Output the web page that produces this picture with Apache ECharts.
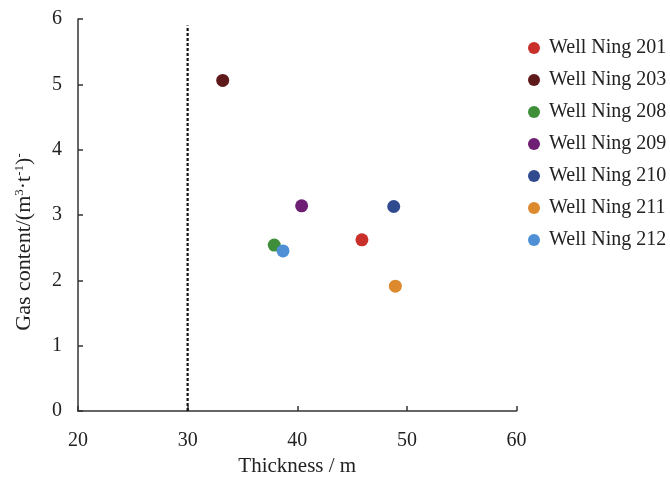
<!DOCTYPE html>
<html><head><meta charset="utf-8">
<script src="https://cdn.jsdelivr.net/npm/echarts@6/dist/echarts.min.js"></script>
<style>html,body{margin:0;padding:0;background:#fff}#c{width:670px;height:479px}</style>
</head><body><div id="c"></div>
<script>
const wells = ['Well Ning 201','Well Ning 203','Well Ning 208','Well Ning 209','Well Ning 210','Well Ning 211','Well Ning 212'];
const thickness = [45.9, 33.2, 37.9, 40.4, 48.8, 48.95, 38.7];
const gasContent = [2.62, 5.06, 2.54, 3.14, 3.13, 1.91, 2.45];
const colors = ['#c9302c','#5e1a1a','#3e8e3a','#6e1f74','#2f4a8f','#dd8a2e','#4f8fd6'];
const xTicks = [20,30,40,50,60];
const yTicks = [0,1,2,3,4,5,6];
const cutoffX = 30;
const cutoffTop = 5.9;

const font = '"Liberation Serif","Times New Roman",serif';
const series = wells.map((w,i)=>({
  name: w, type:'scatter', symbolSize: 13,
  itemStyle:{color: colors[i], opacity:1},
  data:[[thickness[i], gasContent[i]]]
}));
series.push({
  name:'cutoff', type:'line', symbol:'none', silent:true,
  lineStyle:{color:'#111', width:2.2, type:[3,2]},
  data:[[cutoffX,0],[cutoffX,cutoffTop]]
});
const chart = echarts.init(document.getElementById('c'));
chart.setOption({
  animation:false,
  grid:{left:78, right:153.5, top:19, bottom:68, outerBoundsMode:'none', containLabel:false},
  legend:{
    data: wells, orient:'vertical', left:523, top:33,
    icon:'circle', itemWidth:12, itemHeight:12, itemGap:12,
    itemStyle:{opacity:1},
    textStyle:{fontFamily:font, fontSize:20, color:'#222', padding:[0,0,0,4]}
  },
  xAxis:{
    type:'value', min:20, max:60, interval:10,
    name:'Thickness / m', nameLocation:'middle', nameGap:45,
    nameTextStyle:{fontFamily:font, fontSize:21, color:'#222'},
    axisLine:{lineStyle:{color:'#333', width:1.5}},
    axisTick:{inside:true, length:5, lineStyle:{color:'#333', width:1.5}},
    axisLabel:{fontFamily:font, fontSize:20, color:'#222', margin:20,
      formatter:v=>xTicks.includes(v)?String(v):''},
    splitLine:{show:false}
  },
  yAxis:{
    type:'value', min:0, max:6, interval:1,
    name:'{a|Gas content/(m}{s|3}{a|·t}{s|-1}{a|)}{s|-}', nameLocation:'middle', nameGap:42,
    nameTextStyle:{fontFamily:font, fontSize:22, color:'#222', padding:[0,54,0,0],
      rich:{a:{fontFamily:font, fontSize:22, color:'#222'}, s:{fontFamily:font, fontSize:13, color:'#222', verticalAlign:'top', padding:[0,0,10,0]}}},
    axisLine:{show:true, lineStyle:{color:'#333', width:1.5}},
    axisTick:{show:true, inside:true, length:5, lineStyle:{color:'#333', width:1.5}},
    axisLabel:{fontFamily:font, fontSize:20, color:'#222', margin:16,
      formatter:v=>yTicks.includes(v)?String(v):''},
    splitLine:{show:false}
  },
  series
});
</script></body></html>
